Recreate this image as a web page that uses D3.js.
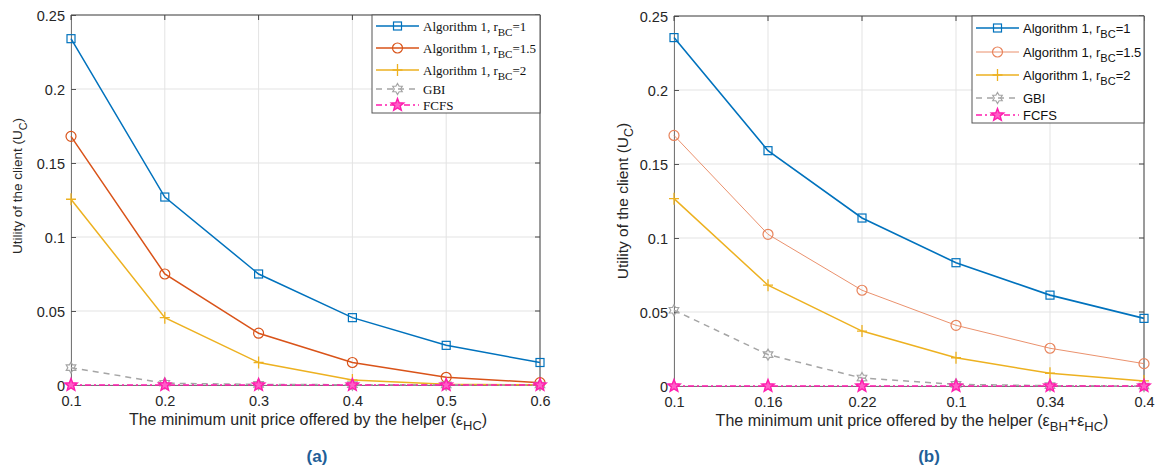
<!DOCTYPE html>
<html><head><meta charset="utf-8">
<script src="https://cdn.jsdelivr.net/npm/d3@7"></script>
<style>body{margin:0;background:#fff}svg{display:block}</style>
</head><body><svg id="c" width="1155" height="468"></svg>
<script>
// ---------- data ----------
const xA = [0.1, 0.2, 0.3, 0.4, 0.5, 0.6];
const a_r1   = [0.234, 0.127, 0.075, 0.0455, 0.0268, 0.0152];
const a_r15  = [0.168, 0.075, 0.035, 0.0152, 0.0052, 0.0016];
const a_r2   = [0.1255, 0.0455, 0.0152, 0.0034, 0.0005, 0.0001];
const a_gbi  = [0.0117, 0.0012, 0.0004, 0.0002, 0.0001, 0];
const a_fcfs = [0, 0, 0, 0, 0, 0];

const xBLabels = ["0.1", "0.16", "0.22", "0.1", "0.34", "0.4"];
const b_r1   = [0.2354, 0.159, 0.1135, 0.0833, 0.0614, 0.0457];
const b_r15  = [0.1693, 0.1025, 0.0647, 0.041, 0.0255, 0.0151];
const b_r2   = [0.1266, 0.0681, 0.0371, 0.0191, 0.0086, 0.0034];
const b_gbi  = [0.0512, 0.0212, 0.0054, 0.0011, 0.0002, 0];
const b_fcfs = [0, 0, 0, 0, 0, 0];

const yTicks = [0, 0.05, 0.1, 0.15, 0.2, 0.25];
const yTickLabels = ["0", "0.05", "0.1", "0.15", "0.2", "0.25"];

const svg = d3.select("#c");
const SANS = "Liberation Sans, Arial, sans-serif";
const SERIF = "Liberation Serif, Times New Roman, serif";

function star(n, R, r) {
  let p = [];
  for (let i = 0; i < 2 * n; i++) {
    const a = -Math.PI / 2 + i * Math.PI / n;
    const rr = i % 2 === 0 ? R : r;
    p.push([rr * Math.cos(a), rr * Math.sin(a)]);
  }
  return "M" + p.map(d => d.join(",")).join("L") + "Z";
}

function drawMarker(g, type, x, y, color) {
  if (type === "square") {
    g.append("rect").attr("x", x - 4).attr("y", y - 4).attr("width", 8).attr("height", 8)
      .attr("fill", "none").attr("stroke", color).attr("stroke-width", 1.2);
  } else if (type === "circle") {
    g.append("circle").attr("cx", x).attr("cy", y).attr("r", 5)
      .attr("fill", "none").attr("stroke", color).attr("stroke-width", 1.2);
  } else if (type === "plus") {
    g.append("path").attr("d", `M${x-5},${y}H${x+5}M${x},${y-6}V${y+6}`)
      .attr("stroke", color).attr("stroke-width", 1.3).attr("fill", "none");
  } else if (type === "hexagram") {
    g.append("path").attr("d", star(6, 5.5, 3.2)).attr("transform", `translate(${x},${y})`)
      .attr("fill", "none").attr("stroke", color).attr("stroke-width", 1.2);
  } else if (type === "pentagram") {
    g.append("path").attr("d", star(5, 6.5, 2.8)).attr("transform", `translate(${x},${y})`)
      .attr("fill", "#ff5ec8").attr("stroke", color).attr("stroke-width", 1.4);
  }
}

function panel(opt) {
  const { left, right, top, bottom, x, xTickVals, xTickFmt, series, legend } = opt;
  const g = svg.append("g");
  const y = d3.scaleLinear().domain([0, 0.25]).range([bottom, top]);

  // grid
  g.append("g").selectAll("line").data(xTickVals).join("line")
    .attr("x1", d => x(d)).attr("x2", d => x(d)).attr("y1", top).attr("y2", bottom)
    .attr("stroke", "#e3e3e3").attr("stroke-width", 1);
  g.append("g").selectAll("line").data(yTicks).join("line")
    .attr("x1", left).attr("x2", right).attr("y1", d => y(d)).attr("y2", d => y(d))
    .attr("stroke", "#e3e3e3").attr("stroke-width", 1);

  // axes
  const ax = g.append("g").attr("transform", `translate(0,${bottom})`)
    .call(d3.axisBottom(x).tickValues(xTickVals).tickFormat(xTickFmt).tickSizeInner(-5).tickSizeOuter(0).tickPadding(11));
  const ay = g.append("g").attr("transform", `translate(${left},0)`)
    .call(d3.axisLeft(y).tickValues(yTicks).tickFormat((d, i) => yTickLabels[i]).tickSizeInner(-5).tickSizeOuter(0).tickPadding(6));
  [ax, ay].forEach(a => {
    a.selectAll("text").attr("font-family", SANS).attr("font-size", 14.5).attr("fill", "#262626");
    a.selectAll("line").attr("stroke", "#555");
    a.select(".domain").attr("stroke", "#777");
  });
  ay.selectAll("text").attr("dy", "0.35em");
  // top & right
  g.append("line").attr("x1", left).attr("x2", right).attr("y1", top).attr("y2", top).attr("stroke", "#444");
  g.append("line").attr("x1", right).attr("x2", right).attr("y1", top).attr("y2", bottom).attr("stroke", "#444");
  g.append("g").selectAll("line").data(xTickVals).join("line")
    .attr("x1", d => x(d)).attr("x2", d => x(d)).attr("y1", top).attr("y2", top + 5).attr("stroke", "#444");
  g.append("g").selectAll("line").data(yTicks).join("line")
    .attr("x1", right - 5).attr("x2", right).attr("y1", d => y(d)).attr("y2", d => y(d)).attr("stroke", "#444");

  // series
  const clip = g.append("g");
  series.forEach(s => {
    const line = d3.line().x((d, i) => x(s.xs[i])).y(d => y(d));
    clip.append("path").datum(s.values).attr("d", line)
      .attr("fill", "none").attr("stroke", s.color).attr("stroke-width", s.width)
      .attr("stroke-dasharray", s.dash || null);
  });
  series.forEach(s => {
    s.values.forEach((v, i) => drawMarker(clip, s.marker, x(s.xs[i]), y(v), s.color));
  });

  // legend
  const L = legend;
  const lg = g.append("g");
  lg.append("rect").attr("x", L.x0).attr("y", L.y0).attr("width", L.x1 - L.x0).attr("height", L.y1 - L.y0)
    .attr("fill", "#fff").attr("stroke", "#555").attr("stroke-width", 1);
  series.forEach((s, i) => {
    const yy = L.rows[i];
    lg.append("line").attr("x1", L.lx0).attr("x2", L.lx1).attr("y1", yy).attr("y2", yy)
      .attr("stroke", s.color).attr("stroke-width", s.width).attr("stroke-dasharray", s.dash || null);
    drawMarker(lg, s.marker, (L.lx0 + L.lx1) / 2, yy, s.color);
    const t = lg.append("text").attr("x", L.tx).attr("y", yy + 4.5)
      .attr("font-family", L.font).attr("font-size", L.size).attr("fill", "#111");
    if (s.sub) {
      t.append("tspan").text(s.name);
      t.append("tspan").text("BC").attr("dy", 5).attr("font-size", L.size * 0.85);
      t.append("tspan").text(s.sub).attr("dy", -5);
    } else t.text(s.name);
  });
  return g;
}

const colBlue = "#0072BD", colOr = "#D95319", colOrB = "#E8845C", colYel = "#EDB120", colGray = "#A5A5A5", colPink = "#FF1DAE";

// panel (a)
const xa = d3.scaleLinear().domain([0.1, 0.6]).range([71, 540]);
panel({
  left: 71, right: 540, top: 15, bottom: 385, x: xa,
  xTickVals: xA, xTickFmt: d => d3.format(".1f")(d),
  series: [
    { xs: xA, values: a_r1, color: colBlue, width: 1.5, marker: "square", name: "Algorithm 1, r", sub: "=1" },
    { xs: xA, values: a_r15, color: colOr, width: 1.5, marker: "circle", name: "Algorithm 1, r", sub: "=1.5" },
    { xs: xA, values: a_r2, color: colYel, width: 1.5, marker: "plus", name: "Algorithm 1, r", sub: "=2" },
    { xs: xA, values: a_gbi, color: colGray, width: 1.5, marker: "hexagram", dash: "6,5", name: "GBI" },
    { xs: xA, values: a_fcfs, color: colPink, width: 1.3, marker: "pentagram", dash: "6,3,2,3", name: "FCFS" }
  ],
  legend: { x0: 372, x1: 540, y0: 15, y1: 113, rows: [26, 48, 70, 89, 105], lx0: 376, lx1: 419, tx: 423, font: SERIF, size: 13 }
});

// panel (b)
const idx = d3.range(xBLabels.length);
const xb = d3.scaleLinear().domain([0, 5]).range([674, 1144]);
panel({
  left: 674, right: 1144, top: 16, bottom: 386, x: xb,
  xTickVals: idx, xTickFmt: (d, i) => xBLabels[i],
  series: [
    { xs: idx, values: b_r1, color: colBlue, width: 1.6, marker: "square", name: "Algorithm 1, r", sub: "=1" },
    { xs: idx, values: b_r15, color: colOrB, width: 0.9, marker: "circle", name: "Algorithm 1, r", sub: "=1.5" },
    { xs: idx, values: b_r2, color: colYel, width: 1.5, marker: "plus", name: "Algorithm 1, r", sub: "=2" },
    { xs: idx, values: b_gbi, color: colGray, width: 1.5, marker: "hexagram", dash: "6,5", name: "GBI" },
    { xs: idx, values: b_fcfs, color: colPink, width: 1.3, marker: "pentagram", dash: "6,3,2,3", name: "FCFS" }
  ],
  legend: { x0: 972, x1: 1144, y0: 16, y1: 123, rows: [28, 52, 75, 98, 115], lx0: 976, lx1: 1019, tx: 1023, font: SANS, size: 13 }
});

// axis titles
function ytitle(cx, cy, size) {
  const t = svg.append("text").attr("transform", `translate(${cx},${cy}) rotate(-90)`)
    .attr("text-anchor", "middle").attr("font-family", SANS).attr("font-size", size).attr("fill", "#262626");
  t.append("tspan").text("Utility of the client (U");
  t.append("tspan").text("C").attr("dy", 5).attr("font-size", size * 0.8);
  t.append("tspan").text(")").attr("dy", -5);
}
ytitle(22, 186, 13.5);
ytitle(628, 201, 15.5);

function xtitle(cx, cy, subs) {
  const t = svg.append("text").attr("x", cx).attr("y", cy)
    .attr("text-anchor", "middle").attr("font-family", SANS).attr("font-size", 16).attr("fill", "#262626");
  t.append("tspan").text("The minimum unit price offered by the helper (");
  subs.forEach((s, i) => {
    t.append("tspan").text((i > 0 ? "+" : "") + "ε").attr("dy", i > 0 ? -5 : null);
    t.append("tspan").text(s).attr("dy", 5).attr("font-size", 13);
  });
  t.append("tspan").text(")").attr("dy", -5);
}
xtitle(308, 425, ["HC"]);
xtitle(912, 426, ["BH", "HC"]);

svg.append("text").attr("x", 317).attr("y", 462).attr("text-anchor", "middle")
  .attr("font-family", SANS).attr("font-weight", "bold").attr("font-size", 17).attr("fill", "#1F5F98").text("(a)");
svg.append("text").attr("x", 929).attr("y", 462).attr("text-anchor", "middle")
  .attr("font-family", SANS).attr("font-weight", "bold").attr("font-size", 17).attr("fill", "#1F5F98").text("(b)");
</script></body></html>
